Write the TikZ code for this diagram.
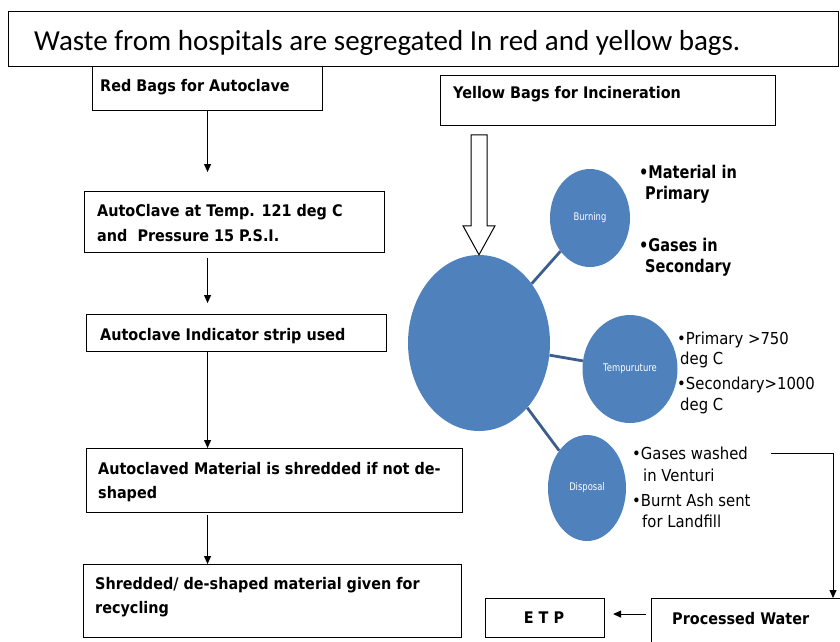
\documentclass[tikz,border=0pt]{standalone}
\usepackage{fontspec}
\setmainfont{Carlito}
\newfontfamily\boxfont[FakeStretch=0.9]{DejaVu Sans}
\newfontfamily\bulbfont[FakeStretch=0.83]{DejaVu Sans}
\newfontfamily\bulrfont[FakeStretch=0.9]{DejaVu Sans}
\newfontfamily\circfont[FakeStretch=0.8]{DejaVu Sans}
\usetikzlibrary{arrows.meta,shapes.geometric,calc}
\definecolor{bubble}{HTML}{4F81BD}
\definecolor{linkc}{HTML}{3B5E8C}
\begin{document}
\begin{tikzpicture}[x=1pt,y=-1pt,
  frame/.style={draw=black,line width=1.1pt,inner sep=0,anchor=north west},
  btxt/.style={anchor=base west,inner sep=0,font=\boxfont\bfseries\fontsize{16}{19}\selectfont},
  flow/.style={draw=black,line width=1pt,-{Triangle[length=8pt,width=7pt]}},
  bub/.style={ellipse,fill=bubble,inner sep=0,text=white,font=\circfont\fontsize{10.5}{12}\selectfont},
  link/.style={draw=linkc,line width=2.8pt},
  bulb/.style={anchor=base west,inner sep=0,font=\bulbfont\bfseries\fontsize{17.5}{20}\selectfont},
  bulr/.style={anchor=base west,inner sep=0,font=\bulrfont\fontsize{16.5}{19}\selectfont}]
\useasboundingbox (0,0) rectangle (840,641);
% boxes
\node[frame,minimum width=830,minimum height=55] (title) at (8,11) {};
\node[anchor=base west,inner sep=0,font=\fontsize{29}{34}\selectfont] (titletxt) at (34,50) {Waste from hospitals are segregated In red and yellow bags.};
\node[frame,minimum width=230,minimum height=44] (red) at (92,66) {};
\node[btxt] (redt) at (100,91) {Red Bags for Autoclave};
\node[frame,minimum width=335,minimum height=50] (yellow) at (440,75) {};
\node[btxt] (yellowt) at (453,98) {Yellow Bags for Incineration};
\node[frame,minimum width=300,minimum height=61] (auto) at (84,191) {};
\node[btxt] (autot1) at (97,216) {AutoClave at Temp. 121 deg C};
\node[btxt] (autot2) at (97,241) {and\ \ Pressure 15 P.S.I.};
\node[frame,minimum width=300,minimum height=37] (ind) at (86,314) {};
\node[btxt] (indt) at (100,340) {Autoclave Indicator strip used};
\node[frame,minimum width=376,minimum height=64] (shred) at (86,448) {};
\node[btxt] (shredt1) at (98,474) {Autoclaved Material is shredded if not de-};
\node[btxt] (shredt2) at (98,498) {shaped};
\node[frame,minimum width=378,minimum height=73] (recy) at (83,564) {};
\node[btxt] (recyt1) at (95,589) {Shredded/ de-shaped material given for};
\node[btxt] (recyt2) at (95,613) {recycling};
\node[frame,minimum width=119,minimum height=39] (etp) at (485,598) {};
\node[btxt,anchor=base] (etpt) at (544,623) {E T P};
\node[frame,minimum width=200,minimum height=60] (pw) at (651,598) {};
\node[btxt] (pwt) at (672,624) {Processed Water};
% left flow
\draw[flow] (red.south) -- ($(red.south |- auto.north)+(0,-19)$);
\draw[flow] ($(red.south |- auto.south)+(0,5)$) -- ($(red.south |- ind.north)+(0,-11)$);
\draw[flow] (red.south |- ind.south) -- (red.south |- shred.north);
\draw[flow] ($(red.south |- shred.south)+(0,2)$) -- (red.south |- recy.north);
% bubbles
\node[bub,minimum width=142,minimum height=176] (big) at (479,343) {};
\node[bub,minimum width=80,minimum height=98] (burn) at (590,218) {Burning};
\node[bub,minimum width=95,minimum height=108] (temp) at (630,369) {Tempuruture};
\node[bub,minimum width=78,minimum height=106] (disp) at (587,488) {Disposal};
\draw[link] (big) -- (burn);
\draw[link] (big) -- (temp);
\draw[link] (big) -- (disp);
% hollow block arrow
\draw[fill=white,line width=1pt] ($(big.north)+(-8,-120)$) -- ($(big.north)+(-8,-29)$) -- ($(big.north)+(-16,-29)$) -- (big.north) -- ($(big.north)+(16,-29)$) -- ($(big.north)+(8,-29)$) -- ($(big.north)+(8,-120)$) -- cycle;
% bullets
\node[bulb] (m1) at (639,178) {•Material in};
\node[bulb] (m2) at (645,199) {Primary};
\node[bulb] (g1) at (639,251) {•Gases in};
\node[bulb] (g2) at (645,272) {Secondary};
\node[bulr] (p1) at (677,344) {•Primary >750};
\node[bulr] (p2) at (680,364) {deg C};
\node[bulr] (s1) at (677,389) {•Secondary>1000};
\node[bulr] (s2) at (680,410) {deg C};
\node[bulr] (w1) at (632,459) {•Gases washed};
\node[bulr] (w2) at (643,481) {in Venturi};
\node[bulr] (b1) at (632,506) {•Burnt Ash sent};
\node[bulr] (b2) at (642,527) {for Landfill};
% water path
\coordinate (gwend) at (771,453);
\coordinate (gwc) at (833,453);
\draw[flow,line width=0.8pt] (gwend) -- (gwc) -- (gwc |- pw.north);
\draw[flow,shorten >=8pt] ($(pw.west |- etp.east)+(-5,-4)$) -- ($(etp.east)+(0,-4)$);
\end{tikzpicture}
\end{document}
